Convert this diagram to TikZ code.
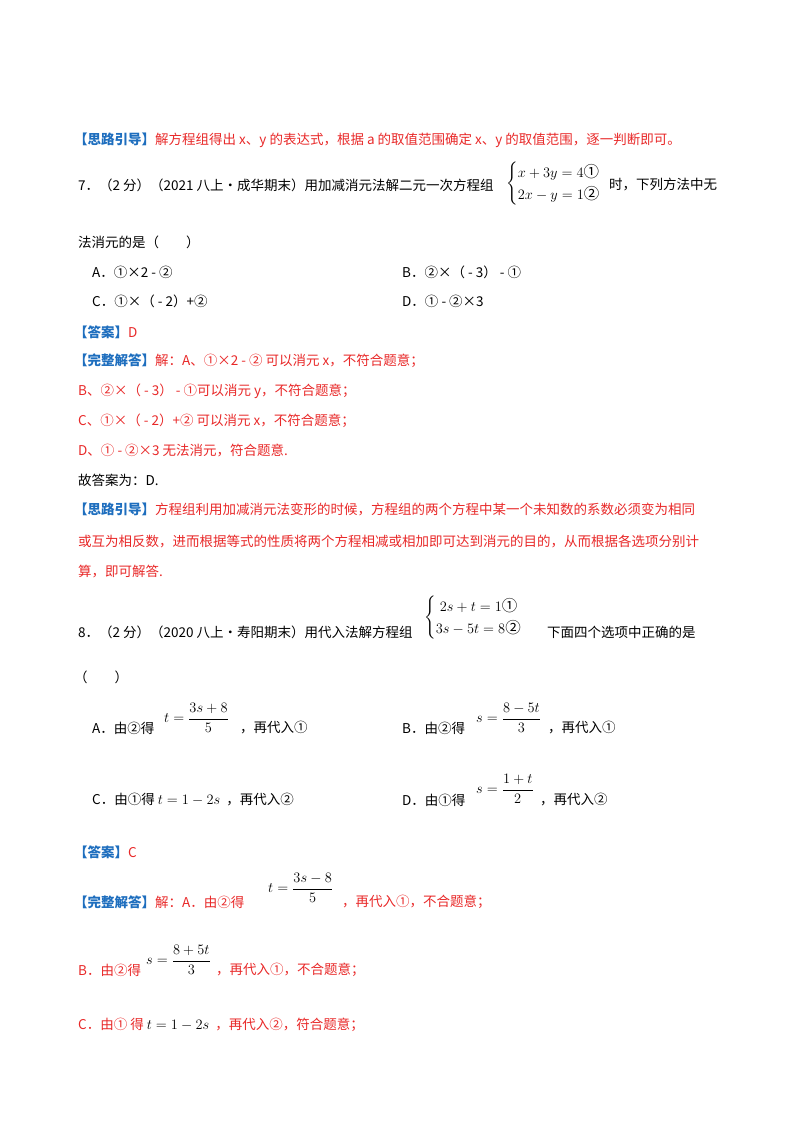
\documentclass[tikz,border=0pt]{standalone}
\usepackage{fontspec}
\usepackage{amsmath}
\setmainfont{Liberation Serif}
\newfontfamily\cjk{Noto Sans CJK SC}
\definecolor{ansred}{RGB}{232,40,40}
\definecolor{hdblue}{RGB}{30,110,190}
\newcommand{\hdb}[1]{\textcolor{hdblue}{\bfseries #1}}
\begin{document}
\begin{tikzpicture}[x=1pt,y=-1pt,
  t/.style={anchor=west,inner sep=0pt,font=\cjk\fontsize{13.5}{16}\selectfont},
  r/.style={t,text=ansred},
  m/.style={anchor=west,inner sep=0pt,font=\fontsize{15.5}{18}\selectfont}]
\useasboundingbox (0,0) rectangle (800,1132);
\node[t] (l1) at (74,140) {\hdb{【思路引导】}\textcolor{ansred}{解方程组得出 x、y 的表达式，根据 a 的取值范围确定 x、y 的取值范围，逐一判断即可。}};
\node[t] (q7) at (78,185) {7．（2 分）（2021 八上・成华期末）用加减消元法解二元一次方程组};
\node[m] (s7) at (506,184) {$\begin{cases} x+3y=4\text{\cjk①}\\[0pt] 2x-y=1\text{\cjk②}\end{cases}$};
\node[t] (q7b) at (609,185) {时，下列方法中无};
\node[t] (q7c) at (78,242) {法消元的是（　　）};
\node[t] (a7) at (92,272) {A．①×2 - ②};
\node[t] (b7) at (402,272) {B．②×（ - 3） - ①};
\node[t] (c7) at (92,301) {C．①×（ - 2）+②};
\node[t] (d7) at (402,301) {D．① - ②×3};
\node[t] (ans7) at (74,332) {\hdb{【答案】}\textcolor{ansred}{D}};
\node[t] (e1) at (74,361) {\hdb{【完整解答】}\textcolor{ansred}{解：A、①×2 - ② 可以消元 x，不符合题意；}};
\node[r] (e2) at (78,391) {B、②×（ - 3） - ①可以消元 y，不符合题意；};
\node[r] (e3) at (78,421) {C、①×（ - 2）+② 可以消元 x，不符合题意；};
\node[r] (e4) at (78,450) {D、① - ②×3 无法消元，符合题意.};
\node[t] (e5) at (78,480) {故答案为：D.};
\node[t] (g1) at (74,509) {\hdb{【思路引导】}\textcolor{ansred}{方程组利用加减消元法变形的时候，方程组的两个方程中某一个未知数的系数必须变为相同}};
\node[r] (g2) at (78,541) {或互为相反数，进而根据等式的性质将两个方程相减或相加即可达到消元的目的，从而根据各选项分别计};
\node[r] (g3) at (78,572) {算，即可解答.};
\node[t] (q8) at (78,632) {8．（2 分）（2020 八上・寿阳期末）用代入法解方程组};
\node[m] (s8) at (424,618) {$\begin{cases} \;2s+t=1\text{\cjk①}\\[0pt] 3s-5t=8\text{\cjk②}\end{cases}$};
\node[t] (q8b) at (547,632) {下面四个选项中正确的是};
\node[t] (q8c) at (74,677) {（　　）};
\node[t] (a8) at (92,728) {A．由②得};
\node[m] (a8f) at (164,718) {$t=\dfrac{3s+8}{5}$};
\node[t] (a8b) at (240,728) {，再代入①};
\node[t] (b8) at (402,728) {B．由②得};
\node[m] (b8f) at (476,718) {$s=\dfrac{8-5t}{3}$};
\node[t] (b8b) at (548,728) {，再代入①};
\node[t] (c8) at (92,800) {C．由①得 {\fontsize{15.5}{18}\selectfont$t=1-2s$}\cjk\fontsize{13.5}{16}\selectfont\ \ ，再代入②};
\node[t] (d8) at (402,800) {D．由①得};
\node[m] (d8f) at (476,789) {$s=\dfrac{1+t}{2}$};
\node[t] (d8b) at (540,800) {，再代入②};
\node[t] (ans8) at (74,852) {\hdb{【答案】}\textcolor{ansred}{C}};
\node[t] (f1) at (74,902) {\hdb{【完整解答】}\textcolor{ansred}{解：A．由②得}};
\node[m] (f1f) at (268,888) {$t=\dfrac{3s-8}{5}$};
\node[r] (f1b) at (342,902) {，再代入①，不合题意；};
\node[r] (f2) at (78,970) {B．由②得};
\node[m] (f2f) at (146,960) {$s=\dfrac{8+5t}{3}$};
\node[r] (f2b) at (216,970) {，再代入①，不合题意；};
\node[r] (f3) at (78,1025) {C．由① 得 \textcolor{black}{\fontsize{15.5}{18}\selectfont$t=1-2s$}\cjk\fontsize{13.5}{16}\selectfont\ \ ，再代入②，符合题意；};
\end{tikzpicture}
\end{document}
